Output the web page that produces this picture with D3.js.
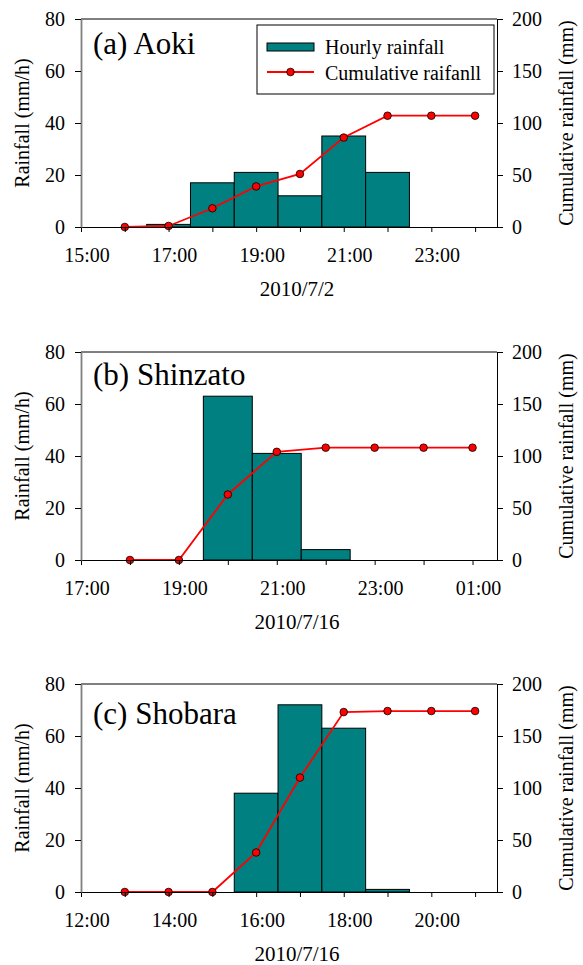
<!DOCTYPE html>
<html>
<head>
<meta charset="utf-8">
<script src="https://cdn.jsdelivr.net/npm/d3@7"></script>
<style>
    body { margin: 0; background: #fff; }
    svg { display: block; }
    svg text { font-family: 'Liberation Serif', 'Times New Roman', serif !important; }
</style>
</head>
<body>
<div id="chart"></div>
<script>
// panel titles and dates
const stationLabels = ['(a) Aoki', '(b) Shinzato', '(c) Shobara'];
const dateLabels = ['2010/7/2', '2010/7/16', '2010/7/16'];
const hourStart = [15, 17, 12];
const hourEnd = [24.5, 25.5, 21.5];

// (a) Aoki
const aokiBarHours = [17, 18, 19, 20, 21, 22];
const aokiHourly = [1, 17, 21, 12, 35, 21];
const aokiCumHours = [16, 17, 18, 19, 20, 21, 22, 23, 24];
const aokiCumulative = [0, 1, 18, 39, 51, 86, 107, 107, 107];

// (b) Shinzato
const shinzatoBarHours = [20, 21, 22];
const shinzatoHourly = [63, 41, 4];
const shinzatoCumHours = [18, 19, 20, 21, 22, 23, 24, 25];
const shinzatoCumulative = [0, 0, 63, 104, 108, 108, 108, 108];

// (c) Shobara
const shobaraBarHours = [16, 17, 18, 19];
const shobaraHourly = [38, 72, 63, 1];
const shobaraCumHours = [13, 14, 15, 16, 17, 18, 19, 20, 21];
const shobaraCumulative = [0, 0, 0, 38, 110, 173, 174, 174, 174];

const rainTicks = [0, 20, 40, 60, 80];
const cumTicks = [0, 50, 100, 150, 200];
const legendLabels = ['Hourly rainfall', 'Cumulative raifanll'];

const panels = [
    { barHours: aokiBarHours, hourly: aokiHourly, cumHours: aokiCumHours, cumulative: aokiCumulative },
    { barHours: shinzatoBarHours, hourly: shinzatoHourly, cumHours: shinzatoCumHours, cumulative: shinzatoCumulative },
    { barHours: shobaraBarHours, hourly: shobaraHourly, cumHours: shobaraCumHours, cumulative: shobaraCumulative }
];

const width = 583;
const height = 965;
const plotLeft = 81;
const plotRight = 497;
const plotHeight = 208;
const panelTops = [19, 352, 684];
const labelOffsets = [35, 33, 40];

const teal = '#008080';
const red = '#ff0000';

const svg = d3.select('#chart')
    .append('svg')
    .attr('width', width)
    .attr('height', height);

const fmtHour = h => String(((h % 24) + 24) % 24).padStart(2, '0') + ':00';

function styleAxis(axis) {
    axis.attr('font-family', null).attr('font-size', null);
    axis.selectAll('text').attr('fill', '#000').style('font-size', '20px');
    axis.selectAll('.tick line').attr('stroke', '#000');
}

function drawPanel(i) {
    const p = panels[i];
    const top = panelTops[i];
    const g = svg.append('g').attr('transform', `translate(0,${top})`);

    const x = d3.scaleLinear().domain([hourStart[i], hourEnd[i]]).range([plotLeft, plotRight]);
    const yRain = d3.scaleLinear().domain([0, 80]).range([plotHeight, 0]);
    const yCum = d3.scaleLinear().domain([0, 200]).range([plotHeight, 0]);

    // bars
    g.selectAll('rect.bar')
        .data(p.barHours.map((h, k) => ({ h, v: p.hourly[k] })))
        .enter()
        .append('rect')
        .attr('class', 'bar')
        .attr('x', d => x(d.h - 0.5))
        .attr('width', d => x(d.h + 0.5) - x(d.h - 0.5))
        .attr('y', d => yRain(d.v))
        .attr('height', d => yRain(0) - yRain(d.v))
        .attr('fill', teal)
        .attr('stroke', '#000')
        .attr('stroke-width', 1);

    // cumulative line
    const pts = p.cumHours.map((h, k) => ({ h, v: p.cumulative[k] }));
    g.append('path')
        .datum(pts)
        .attr('fill', 'none')
        .attr('stroke', red)
        .attr('stroke-width', 1.8)
        .attr('d', d3.line().x(d => x(d.h)).y(d => yCum(d.v)));

    g.selectAll('circle.pt')
        .data(pts)
        .enter()
        .append('circle')
        .attr('class', 'pt')
        .attr('cx', d => x(d.h))
        .attr('cy', d => yCum(d.v))
        .attr('r', 3.8)
        .attr('fill', red)
        .attr('stroke', '#000')
        .attr('stroke-width', 0.8);

    // top border
    g.append('line')
        .attr('x1', plotLeft).attr('x2', plotRight)
        .attr('y1', 0).attr('y2', 0)
        .attr('stroke', '#000')
        .attr('stroke-width', 1);

    // x axis
    const hourTicks = d3.range(hourStart[i], Math.floor(hourEnd[i]) + 1);
    const xAxis = g.append('g')
        .attr('transform', `translate(0,${plotHeight})`)
        .call(d3.axisBottom(x)
            .tickValues(hourTicks)
            .tickSize(5)
            .tickSizeOuter(0)
            .tickPadding(16)
            .tickFormat(h => (h - hourStart[i]) % 2 === 0 ? fmtHour(h) : ''));
    styleAxis(xAxis);
    xAxis.selectAll('text').attr('dx', 5.5);
    xAxis.select('.domain').attr('stroke', '#000');

    // left axis
    const yLeft = g.append('g')
        .attr('transform', `translate(${plotLeft},0)`)
        .call(d3.axisLeft(yRain).tickValues(rainTicks).tickSize(6).tickSizeOuter(0).tickPadding(10));
    styleAxis(yLeft);
    yLeft.selectAll('text').attr('dy', '0.34em');
    yLeft.select('.domain').attr('stroke', '#808080').attr('stroke-width', 1.8);

    // right axis
    const yRight = g.append('g')
        .attr('transform', `translate(${plotRight},0)`)
        .call(d3.axisRight(yCum).tickValues(cumTicks).tickSize(6).tickSizeOuter(0).tickPadding(9));
    styleAxis(yRight);
    yRight.selectAll('text').attr('dy', '0.34em');
    yRight.select('.domain').attr('stroke', '#000');

    // titles
    g.append('text')
        .attr('x', 93)
        .attr('y', labelOffsets[i])
        .style('font-size', '31px')
        .text(stationLabels[i]);

    g.append('text')
        .attr('x', 297)
        .attr('y', plotHeight + 69)
        .attr('text-anchor', 'middle')
        .style('font-size', '21px')
        .text(dateLabels[i]);

    g.append('text')
        .attr('transform', `translate(29,${plotHeight / 2}) rotate(-90)`)
        .attr('text-anchor', 'middle')
        .style('font-size', '20px')
        .text('Rainfall (mm/h)');

    g.append('text')
        .attr('transform', `translate(573,${plotHeight / 2}) rotate(-90)`)
        .attr('text-anchor', 'middle')
        .style('font-size', '20px')
        .text('Cumulative rainfall (mm)');

    return g;
}

drawPanel(0);
drawPanel(1);
drawPanel(2);

// legend in panel (a)
const legend = svg.append('g').attr('class', 'legend');
legend.append('rect')
    .attr('x', 257).attr('y', 25)
    .attr('width', 237).attr('height', 69)
    .attr('fill', '#fff')
    .attr('stroke', '#000')
    .attr('stroke-width', 1);
legend.append('rect')
    .attr('x', 267).attr('y', 43)
    .attr('width', 47).attr('height', 8)
    .attr('fill', teal)
    .attr('stroke', '#000')
    .attr('stroke-width', 1);
legend.append('line')
    .attr('x1', 267).attr('x2', 314)
    .attr('y1', 72).attr('y2', 72)
    .attr('stroke', red)
    .attr('stroke-width', 1.8);
legend.append('circle')
    .attr('cx', 290.5).attr('cy', 72).attr('r', 3.8)
    .attr('fill', red)
    .attr('stroke', '#000')
    .attr('stroke-width', 0.8);
legend.selectAll('text')
    .data(legendLabels)
    .enter()
    .append('text')
    .attr('x', 325)
    .attr('y', (d, k) => k === 0 ? 54 : 80)
    .style('font-size', '20px')
    .text(d => d);
</script>
</body>
</html>
